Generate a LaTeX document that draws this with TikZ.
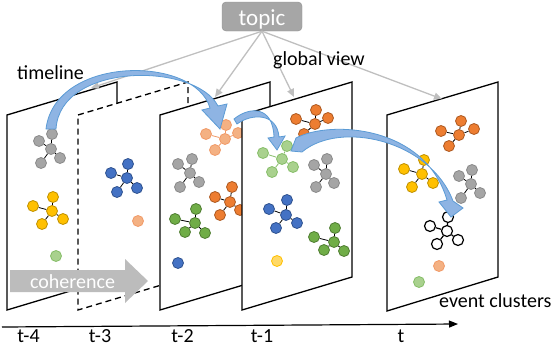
\documentclass[tikz,border=0pt]{standalone}
\usepackage{fontspec}
\setmainfont{Carlito}
\usetikzlibrary{arrows.meta}
\definecolor{ngray}{HTML}{A5A5A5}\definecolor{ngrayd}{HTML}{8A8A8A}
\definecolor{nyel}{HTML}{FFC000}\definecolor{nyeld}{HTML}{C09100}
\definecolor{nblue}{HTML}{4472C4}\definecolor{nblued}{HTML}{2F528F}
\definecolor{norg}{HTML}{ED7D31}\definecolor{norgd}{HTML}{AE5A21}
\definecolor{ngrn}{HTML}{70AD47}\definecolor{ngrnd}{HTML}{507E32}
\definecolor{lorgf}{HTML}{F4B183}\definecolor{lorgd}{HTML}{F19A68}
\definecolor{lgrnf}{HTML}{A9D18E}\definecolor{lgrnd}{HTML}{86BE68}
\definecolor{lyelf}{HTML}{FFD966}\definecolor{lyeld}{HTML}{FFC000}
\definecolor{lgray}{HTML}{BFBFBF}
\definecolor{tgray}{HTML}{A6A6A6}\definecolor{tgrayd}{HTML}{8F8F8F}
\definecolor{bfill}{HTML}{8EB4E3}\definecolor{bline}{HTML}{5B9BD5}
\definecolor{cohfill}{HTML}{BCBCBC}
% star cluster: name, node style, edge style, centre, leaves
\newcommand{\clus}[5]{\node[#2](#1)at#4{};
\foreach\p[count=\k]in{#5}{\node[#2](#1-\k)at\p{};\draw[line width=.8pt,#3](#1)--(#1-\k);}}
\begin{document}
\begin{tikzpicture}[x=1pt,y=-1pt,
  plane/.style={draw,fill=white,line width=1.3pt},
  lab/.style={inner sep=0pt,font=\fontsize{20}{24}\selectfont},
  garr/.style={draw=lgray,line width=1.3pt,-{Triangle[length=8pt,width=7pt]}},
  barr/.style={draw=bline,fill=bfill,line width=.8pt},
  ball/.style={circle,inner sep=0pt,minimum size=11pt,line width=.8pt},
  gry/.style={ball,fill=ngray,draw=ngrayd},
  ylw/.style={ball,fill=nyel,draw=nyeld},
  blu/.style={ball,fill=nblue,draw=nblued},
  org/.style={ball,fill=norg,draw=norgd},
  grn/.style={ball,fill=ngrn,draw=ngrnd},
  lorg/.style={ball,fill=lorgf,draw=lorgd},
  lgrn/.style={ball,fill=lgrnf,draw=lgrnd},
  lylw/.style={ball,fill=lyelf,draw=lyeld},
  hol/.style={ball,fill=white,draw=black,line width=1.2pt}]
\useasboundingbox(0,0)rectangle(556,348);
% t-4
\draw[plane](7,115)--(117,82)--(117,277)--(7,310)--cycle;
\clus{a1}{gry}{black}{(51,149)}{(52,134),(39,141),(60,158),(41,163)}
\clus{a2}{ylw}{black}{(52,211)}{(53,197),(33,206),(63,219),(42,224)}
\node[lgrn](a3)at(56,256){};
% t-3
\draw[plane,dash pattern=on 6pt off 4pt](78,115)--(188,82)--(188,277)--(78,310)--cycle;
\clus{b1}{blu}{black}{(127,178)}{(128,164),(111,173),(137,188),(117,192)}
\node[lorg](b2)at(138,221){};
% t-2
\draw[plane](160,115)--(270,82)--(270,277)--(160,310)--cycle;
\clus{c1}{lorg}{lorgd}{(225,139)}{(226,125),(206,134),(238,133),(215,150)}
\clus{c2}{gry}{black}{(190,173)}{(192,159),(178,164),(199,182),(180,187)}
\clus{c3}{org}{black}{(230,202)}{(232,187),(215,197),(240,210),(220,215)}
\clus{c4}{grn}{black}{(195,223)}{(196,209),(175,219),(205,233),(185,232)}
\node[blu](c5)at(178,263){};
% t-1
\draw[plane](242,115)--(352,82)--(352,277)--(242,310)--cycle;
\clus{d1}{org}{black}{(315,124)}{(316,110),(296,119),(328,118),(304,134)}
\clus{d2}{lgrn}{lgrnd}{(282,159)}{(287,146),(263,153),(293,167),(272,172)}
\clus{d3}{gry}{black}{(326,174)}{(327,159),(314,165),(334,183),(316,187)}
\clus{d4}{blu}{black}{(286,215)}{(287,200),(269,209),(297,223),(276,228)}
\clus{d5}{grn}{black}{(334,242)}{(335,228),(314,237),(344,251),(324,250)}
\node[lylw](d6)at(277,261){};
% t
\draw[plane](387,115)--(498,82)--(498,277)--(387,311)--cycle;
\clus{e1}{org}{black}{(459,135)}{(461,121),(441,131),(474,129),(449,146)}
\clus{e2}{ylw}{black}{(422,174)}{(424,160),(404,169),(433,183),(412,187)}
\clus{e3}{gry}{black}{(471,184)}{(472,170),(459,176),(480,193),(461,198)}
\clus{e4}{hol}{line width=1.2pt}{(447,231)}{(448,217),(430,226),(458,240),(437,244)}
\node[lorg](e5)at(439,266){};
\node[lgrn](e6)at(419,282){};
% coherence
\fill[cohfill](10,270)--(125,270)--(125,259)--(148,281)--(125,303)--(125,292)--(10,292)--cycle;
\node[lab,text=white,anchor=base](coh)at(72.5,288){coherence};
% topic
\node[fill=tgray,draw=tgrayd,rounded corners=4pt,minimum width=80pt,minimum height=29pt,inner sep=0pt,
  text=white,font=\fontsize{23}{27}\selectfont,text height=21.6pt,text depth=4.6pt](topic)at(262,16.5){topic};
\coordinate(g1)at(91,88);\coordinate(g2)at(215,97);\coordinate(g3)at(294,97);\coordinate(g4)at(442,99);
\foreach\g in{g1,g2,g3,g4}{\draw[garr](topic.south)--(\g);}
% timeline arrows
\draw[barr](46,129)..controls(55,55)and(195,55)..(210,108)--(202,110)--(220,129)--(227,104)--(218,106)..controls(195,62)and(60,62)..(56,129)--cycle;
\draw[barr](234,119)..controls(250,106)and(273,106)..(274,137)--(268,138)--(277,150)--(285,136)--(279,137)..controls(277,113)and(252,113)..(237,124)--cycle;
\draw[barr](296,138)..controls(330,120)and(425,125)..(447,200)--(439,202)--(451,217)--(463,208)--(453,201)..controls(430,140)and(340,120)..(302,152)--(291,151)--cycle;
% axis
\coordinate(ax0)at(2,327);\coordinate(ax1)at(458,324);
\draw[line width=1.2pt,-{Triangle[length=9pt,width=7pt]}](ax0)--(ax1);
\foreach\x/\t[count=\i]in{28.5/t-4,100/t-3,182.5/t-2,262/t-1,401/t}{\node[lab,anchor=base](tl\i)at(\x,342){\t};}
\node[lab,anchor=base west](tml)at(17,79){timeline};
\node[lab,anchor=base west](gv)at(273,65){global view};
\node[lab,anchor=base west](ec)at(439,307){event clusters};
\end{tikzpicture}
\end{document}
